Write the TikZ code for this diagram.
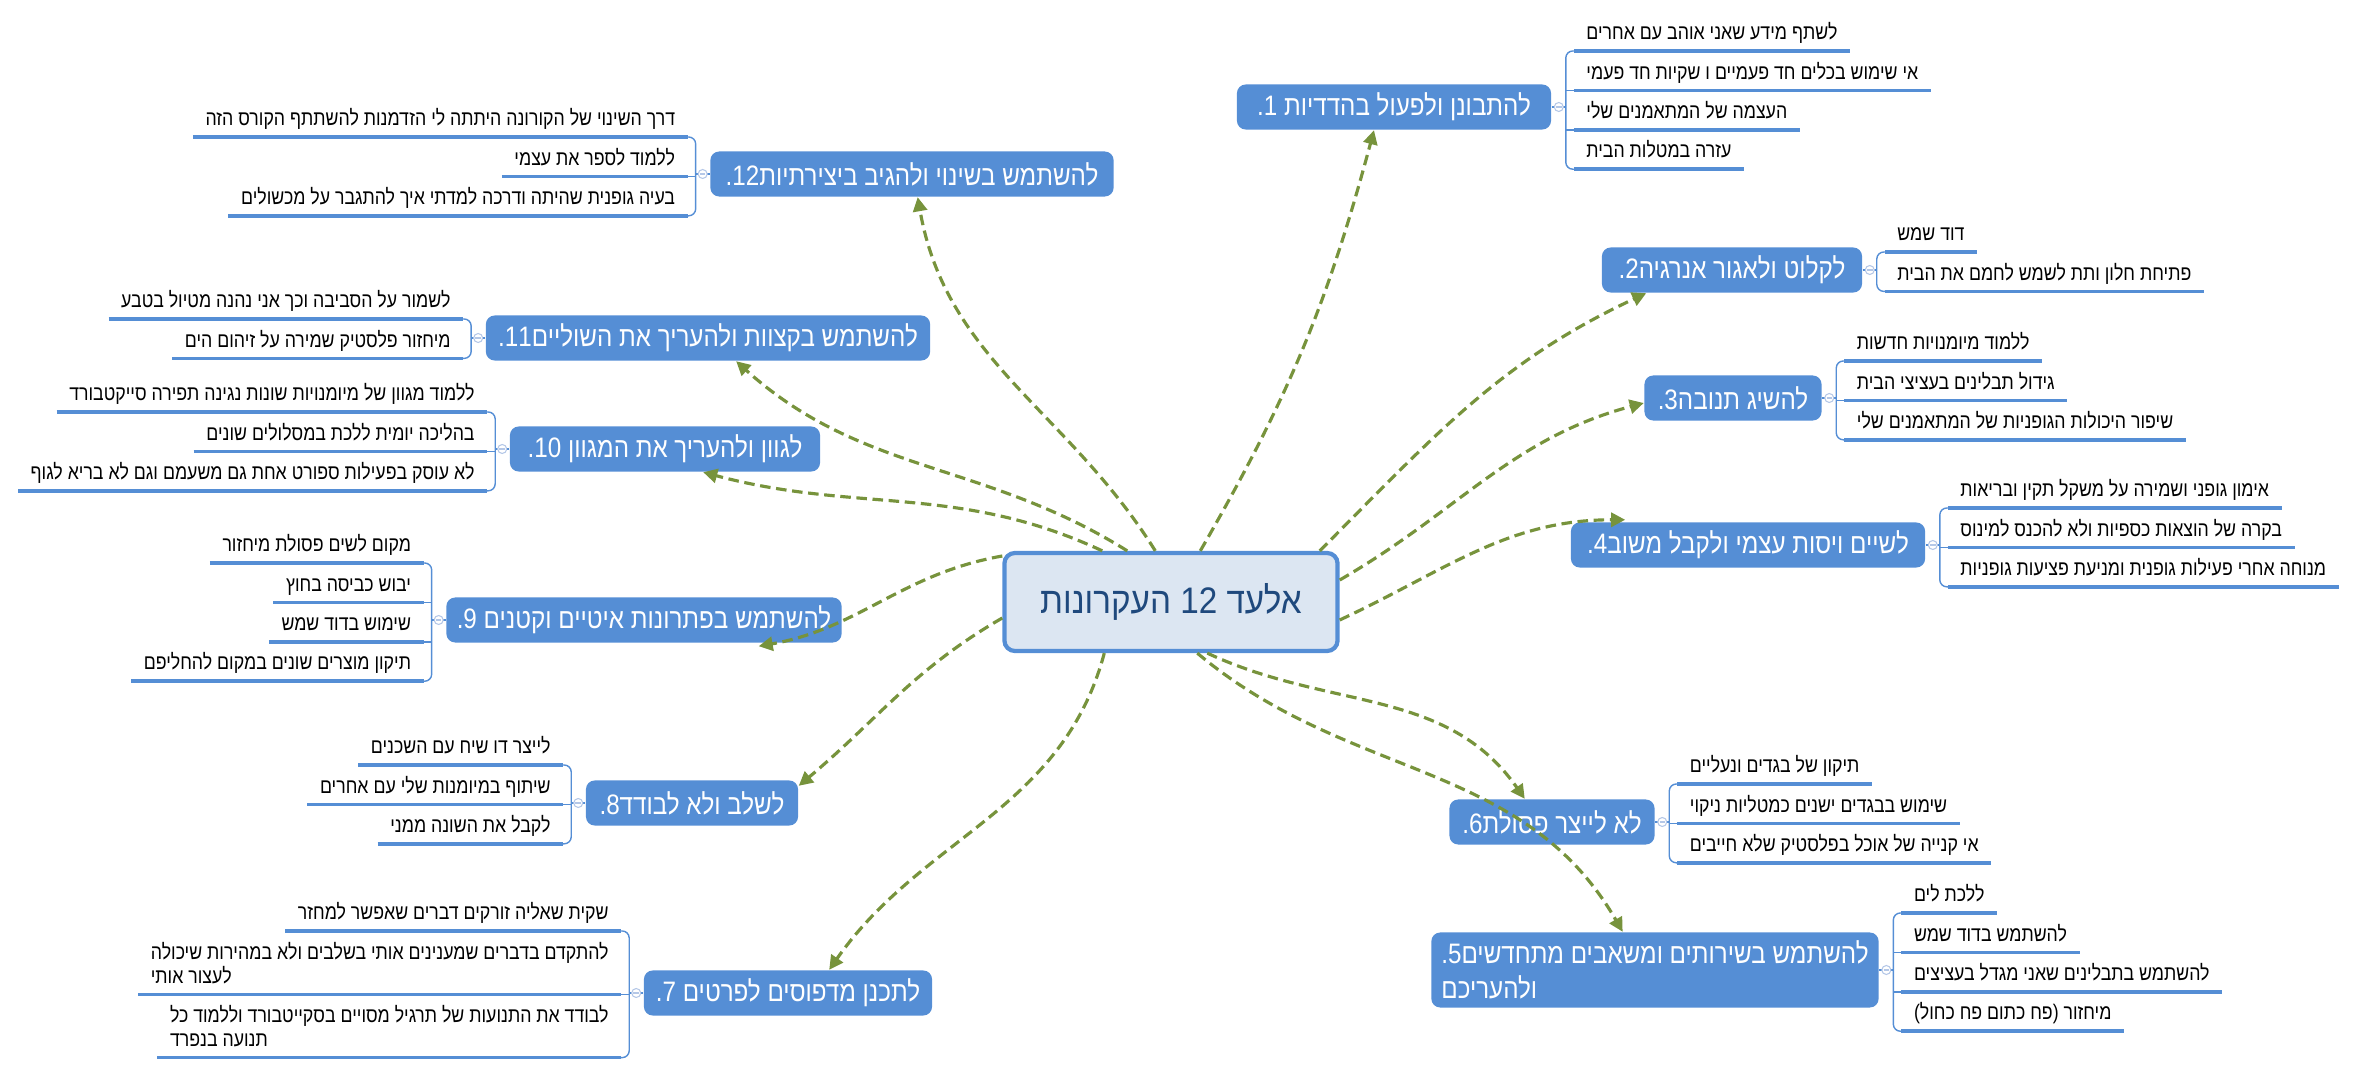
\documentclass[tikz,border=0pt]{standalone}
\usepackage{fontspec}
\usepackage{tikz}
\usetikzlibrary{positioning, calc, arrows.meta}
\TeXXeTstate=1
\newfontfamily\rootfont[Script=Hebrew,FakeStretch=0.9]{Liberation Sans}
\newfontfamily\boxfont[Script=Hebrew,FakeStretch=0.86]{Liberation Sans}
\newfontfamily\itemfont[Script=Hebrew,FakeStretch=0.84]{Liberation Sans}
\newcommand{\hebtext}[1]{\beginR#1\endR}
\newcommand{\lnum}[1]{\beginL#1\endL}
\definecolor{boxblue}{HTML}{558ED5}
\definecolor{rootfill}{HTML}{DCE6F2}
\definecolor{roottext}{HTML}{1F497D}
\definecolor{linkgreen}{HTML}{77933C}
\definecolor{collblue}{HTML}{B4C7E7}
\tikzset{
  root/.style={draw=boxblue, line width=1.2pt, fill=rootfill, rounded corners=3pt, minimum width=3.33cm, minimum height=0.98cm, text=roottext, font=\rootfont\fontsize{10.5}{12}\selectfont},
  branch/.style={fill=boxblue, rounded corners=2.5pt, minimum height=0.45cm, inner sep=2pt, text=white, font=\boxfont\fontsize{8}{10}\selectfont},
  item/.style={inner xsep=3.4pt, inner ysep=1.5pt, text height=5.5pt, text depth=1.5pt, font=\itemfont\fontsize{6}{6.8}\selectfont},
  uline/.style={draw=boxblue, line width=1pt},
  brk/.style={draw=boxblue, line width=0.4pt, rounded corners=2pt},
  coll/.style={circle, draw=collblue, fill=white, line width=0.3pt, inner sep=0pt, minimum size=0.09cm,
    path picture={\draw[collblue, line width=0.3pt] ([xshift=0.5pt]path picture bounding box.west) -- ([xshift=-0.5pt]path picture bounding box.east);}},
  link/.style={draw=linkgreen, line width=0.9pt, dash pattern=on 3pt off 1.6pt, -{Triangle[length=4pt,width=4pt]}}
}
\begin{document}
\begin{tikzpicture}[x=0.01cm, y=0.01cm]
    \useasboundingbox (0,0) rectangle (2362,1072);

    % Center
    \node[root] (root) at (1171,470) {\hebtext{אלעד 12 העקרונות}};

    % Right branches
    \node[branch, minimum width=3.14cm] (b1) at (1394,965) {\hebtext{להתבונן ולפעול בהדדיות \lnum{1.}}};
    \node[branch, minimum width=2.60cm] (b2) at (1732,802) {\hebtext{לקלוט ולאגור אנרגיה\lnum{2.}}};
    \node[branch, minimum width=1.77cm] (b3) at (1733,674) {\hebtext{להשיג תנובה\lnum{3.}}};
    \node[branch, minimum width=3.54cm] (b4) at (1748,527) {\hebtext{לשיים ויסות עצמי ולקבל משוב\lnum{4.}}};
    \node[branch, minimum width=4.47cm, minimum height=0.75cm, align=left] (b5) at (1655,102) {\hebtext{להשתמש בשירותים ומשאבים מתחדשים\lnum{5.}}\\\hebtext{ולהעריכם}};
    \node[branch, minimum width=2.05cm] (b6) at (1552,250) {\hebtext{לא לייצר פסולת\lnum{6.}}};

    % Left branches
    \node[branch, minimum width=2.88cm] (b7) at (788,79) {\hebtext{לתכנן מדפוסים לפרטים \lnum{7.}}};
    \node[branch, minimum width=2.12cm] (b8) at (692,269) {\hebtext{לשלב ולא לבודד\lnum{8.}}};
    \node[branch, minimum width=3.95cm] (b9) at (644,452) {\hebtext{להשתמש בפתרונות איטיים וקטנים \lnum{9.}}};
    \node[branch, minimum width=3.10cm] (b10) at (665,623) {\hebtext{לגוון ולהעריך את המגוון \lnum{10.}}};
    \node[branch, minimum width=4.44cm] (b11) at (708,734) {\hebtext{להשתמש בקצוות ולהעריך את השוליים\lnum{11.}}};
    \node[branch, minimum width=4.03cm] (b12) at (912,898) {\hebtext{להשתמש בשינוי ולהגיב ביצירתיות\lnum{12.}}};

    % Items of 1
    \node[item, above right=0.56cm and 0.22cm of b1.east] (s1a) {\hebtext{לשתף מידע שאני אוהב עם אחרים}};
    \node[item, below=0.81pt of s1a.south west, anchor=north west] (s1b) {\hebtext{אי שימוש בכלים חד פעמיים ו שקיות חד פעמי}};
    \node[item, below=0.81pt of s1b.south west, anchor=north west] (s1c) {\hebtext{העצמה של המתאמנים שלי}};
    \node[item, below=0.81pt of s1c.south west, anchor=north west] (s1d) {\hebtext{עזרה במטלות הבית}};

    % Items of 2
    \node[item, above right=0.18cm and 0.22cm of b2.east] (s2a) {\hebtext{דוד שמש}};
    \node[item, below=0.81pt of s2a.south west, anchor=north west] (s2b) {\hebtext{פתיחת חלון ותת לשמש לחמם את הבית}};

    % Items of 3
    \node[item, above right=0.37cm and 0.22cm of b3.east] (s3a) {\hebtext{ללמוד מיומנויות חדשות}};
    \node[item, below=0.81pt of s3a.south west, anchor=north west] (s3b) {\hebtext{גידול תבלינים בעציצי הבית}};
    \node[item, below=0.81pt of s3b.south west, anchor=north west] (s3c) {\hebtext{שיפור היכולות הגופניות של המתאמנים שלי}};

    % Items of 4
    \node[item, above right=0.37cm and 0.22cm of b4.east] (s4a) {\hebtext{אימון גופני ושמירה על משקל תקין ובריאות}};
    \node[item, below=0.81pt of s4a.south west, anchor=north west] (s4b) {\hebtext{בקרה של הוצאות כספיות ולא להכנס למינוס}};
    \node[item, below=0.81pt of s4b.south west, anchor=north west] (s4c) {\hebtext{מנוחה אחרי פעילות גופנית ומניעת פציעות גופניות}};

    % Items of 5
    \node[item, above right=0.57cm and 0.22cm of b5.east] (s5a) {\hebtext{ללכת לים}};
    \node[item, below=0.81pt of s5a.south west, anchor=north west] (s5b) {\hebtext{להשתמש בדוד שמש}};
    \node[item, below=0.81pt of s5b.south west, anchor=north west] (s5c) {\hebtext{להשתמש בתבלינים שאני מגדל בעציצים}};
    \node[item, below=0.81pt of s5c.south west, anchor=north west] (s5d) {\hebtext{מיחזור (פח כתום פח כחול)}};

    % Items of 6
    \node[item, above right=0.38cm and 0.22cm of b6.east] (s6a) {\hebtext{תיקון של בגדים ונעליים}};
    \node[item, below=0.81pt of s6a.south west, anchor=north west] (s6b) {\hebtext{שימוש בבגדים ישנים כמטליות ניקוי}};
    \node[item, below=0.81pt of s6b.south west, anchor=north west] (s6c) {\hebtext{אי קנייה של אוכל בפלסטיק שלא חייבים}};

    % Items of 7
    \node[item, above left=0.62cm and 0.22cm of b7.west] (s7a) {\hebtext{שקית שאליה זורקים דברים שאפשר למחזר}};
    \node[item, below=0.81pt of s7a.south east, anchor=north east, text depth=8.3pt] (s7b) {\vtop{\hbox{\hebtext{להתקדם בדברים שמענינים אותי בשלבים ולא במהירות שיכולה}}\hbox{\hebtext{לעצור אותי}}}};
    \node[item, below=0.81pt of s7b.south east, anchor=north east, text depth=8.3pt] (s7c) {\vtop{\hbox{\hebtext{לבודד את התנועות של תרגיל מסויים בסקייטבורד וללמוד כל}}\hbox{\hebtext{תנועה בנפרד}}}};

    % Items of 8
    \node[item, above left=0.38cm and 0.22cm of b8.west] (s8a) {\hebtext{לייצר דו שיח עם השכנים}};
    \node[item, below=0.81pt of s8a.south east, anchor=north east] (s8b) {\hebtext{שיתוף במיומנות שלי עם אחרים}};
    \node[item, below=0.81pt of s8b.south east, anchor=north east] (s8c) {\hebtext{לקבל את השונה ממני}};

    % Items of 9
    \node[item, above left=0.57cm and 0.22cm of b9.west] (s9a) {\hebtext{מקום לשים פסולת מיחזור}};
    \node[item, below=0.81pt of s9a.south east, anchor=north east] (s9b) {\hebtext{יבוש כביסה בחוץ}};
    \node[item, below=0.81pt of s9b.south east, anchor=north east] (s9c) {\hebtext{שימוש בדוד שמש}};
    \node[item, below=0.81pt of s9c.south east, anchor=north east] (s9d) {\hebtext{תיקון מוצרים שונים במקום להחליפם}};

    % Items of 10
    \node[item, above left=0.37cm and 0.22cm of b10.west] (s10a) {\hebtext{ללמוד מגוון של מיומנויות שונות נגינה תפירה סייקטבורד}};
    \node[item, below=0.81pt of s10a.south east, anchor=north east] (s10b) {\hebtext{בהליכה יומית ללכת במסלולים שונים}};
    \node[item, below=0.81pt of s10b.south east, anchor=north east] (s10c) {\hebtext{לא עוסק בפעילות ספורט אחת גם משעמם וגם לא בריא לגוף}};

    % Items of 11
    \node[item, above left=0.19cm and 0.22cm of b11.west] (s11a) {\hebtext{לשמור על הסביבה וכך אני נהנה מטיול בטבע}};
    \node[item, below=0.81pt of s11a.south east, anchor=north east] (s11b) {\hebtext{מיחזור פלסטיק שמירה על זיהום הים}};

    % Items of 12
    \node[item, above left=0.37cm and 0.22cm of b12.west] (s12a) {\hebtext{דרך השינוי של הקורונה היתתה לי הזדמנות להשתתף הקורס הזה}};
    \node[item, below=0.81pt of s12a.south east, anchor=north east] (s12b) {\hebtext{ללמוד לספר את עצמי}};
    \node[item, below=0.81pt of s12b.south east, anchor=north east] (s12c) {\hebtext{בעיה גופנית שהיתה ודרכה למדתי איך להתגבר על מכשולים}};

    % Underlines
    \foreach \s in {s1a,s1b,s1c,s1d,s2a,s2b,s3a,s3b,s3c,s4a,s4b,s4c,s5a,s5b,s5c,s5d,s6a,s6b,s6c,
                    s7a,s7b,s7c,s8a,s8b,s8c,s9a,s9b,s9c,s9d,s10a,s10b,s10c,s11a,s11b,s12a,s12b,s12c}
        \draw[uline] (\s.south west) -- (\s.south east);

    % Brackets, right side
    \foreach \b/\f/\l in {1/s1a/s1d, 2/s2a/s2b, 3/s3a/s3c, 4/s4a/s4c, 5/s5a/s5d, 6/s6a/s6c} {
        \coordinate (k\b) at ($(b\b.east)+(14,0)$);
        \draw[brk] (\f.south west) -| (k\b) |- (\l.south west);
        \draw[brk] (b\b.east) -- (k\b);
        \node[coll] (c\b) at ($(b\b.east)!0.5!(k\b)$) {};
    }
    \foreach \s/\b in {s1b/1, s1c/1, s3b/3, s4b/4, s5b/5, s5c/5, s6b/6}
        \draw[brk] (k\b |- \s.south west) -- (\s.south west);

    % Brackets, left side
    \foreach \b/\f/\l in {7/s7a/s7c, 8/s8a/s8c, 9/s9a/s9d, 10/s10a/s10c, 11/s11a/s11b, 12/s12a/s12c} {
        \coordinate (k\b) at ($(b\b.west)+(-14,0)$);
        \draw[brk] (\f.south east) -| (k\b) |- (\l.south east);
        \draw[brk] (b\b.west) -- (k\b);
        \node[coll] (c\b) at ($(b\b.west)!0.5!(k\b)$) {};
    }
    \foreach \s/\b in {s7b/7, s8b/8, s9b/9, s9c/9, s10b/10, s12b/12}
        \draw[brk] (k\b |- \s.south east) -- (\s.south east);

    % Links
    \draw[link] ($(root.north west)+(198,0)$) to[out=60, in=-105] ($(b1.south)+(-20,0)$);
    \draw[link] ($(root.north east)+(-20,0)$) to[out=45, in=205] ($(b2.south west)+(45,0)$);
    \draw[link] ($(root.east)+(0,22)$) to[out=30, in=195] ($(b3.west)+(0,-5)$);
    \draw[link] ($(root.east)+(0,-18)$) to[out=25, in=180] ($(b4.north west)+(55,2)$);
    \draw[link] ($(root.south west)+(195,0)$) to[out=-40, in=120] ($(b5.north west)+(192,0)$);
    \draw[link] ($(root.south west)+(205,0)$) to[out=-25, in=125] ($(b6.north west)+(76,0)$);
    \draw[link] ($(root.south west)+(102,0)$) to[out=-105, in=55] ($(b7.north west)+(186,0)$);
    \draw[link] ($(root.west)+(0,-16)$) to[out=210, in=40] ($(b8.north east)+(0,-6)$);
    \draw[link] ($(root.west)+(0,46)$) to[out=190, in=10] ($(b9.south west)+(313,-3)$);
    \draw[link] ($(root.north west)+(100,0)$) to[out=155, in=-15] ($(b10.south west)+(194,0)$);
    \draw[link] ($(root.north west)+(125,0)$) to[out=148, in=-42] ($(b11.south west)+(251,0)$);
    \draw[link] ($(root.north west)+(153,0)$) to[out=122, in=-80] ($(b12.south west)+(208,0)$);
\end{tikzpicture}
\end{document}
